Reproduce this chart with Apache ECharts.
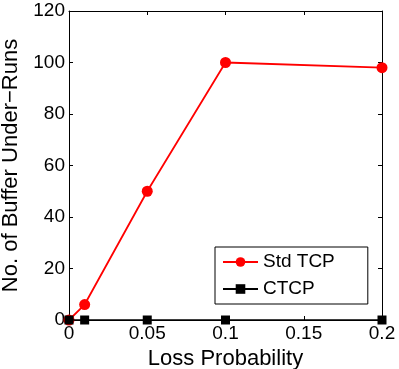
<!DOCTYPE html>
<html>
<head>
<meta charset="utf-8">
<script src="https://cdn.jsdelivr.net/npm/echarts@6/dist/echarts.min.js"></script>
<style>
  html, body { margin: 0; padding: 0; background: #fff; }
  #chart { width: 399px; height: 369px; }
</style>
</head>
<body>
<div id="chart"></div>
<script>
    // data
    var lossProb = [0, 0.01, 0.05, 0.1, 0.2];
    var stdTcp = [0, 6, 50, 100, 98];
    var ctcp = [0, 0, 0, 0, 0];
    var xTicks = [0, 0.05, 0.1, 0.15, 0.2];
    var yTicks = [0, 20, 40, 60, 80, 100, 120];

    function pairs(xs, ys) {
        return xs.map(function (x, i) { return [x, ys[i]]; });
    }

    var font = 'Liberation Sans, Arial, sans-serif';
    var chart = echarts.init(document.getElementById('chart'));
    var frameAxis = {
        axisLine: { show: true, onZero: false, lineStyle: { color: '#000', width: 1 } },
        axisTick: { show: true, inside: true, length: 4, lineStyle: { color: '#000' } },
        splitLine: { show: false }
    };

    var option = {
        animation: false,
        textStyle: { fontFamily: font },
        grid: { left: 69, right: 17, top: 11, bottom: 49, outerBoundsMode: 'none', containLabel: false },
        legend: {
            left: 215, top: 247,
            orient: 'vertical',
            borderColor: '#000', borderWidth: 1,
            padding: [4, 33, 4, 7],
            itemGap: 5,
            itemWidth: 35, itemHeight: 12,
            textStyle: { fontSize: 19, lineHeight: 22, color: '#000', fontFamily: font },
            data: ['Std TCP', 'CTCP']
        },
        xAxis: [
            Object.assign({
                type: 'value', min: xTicks[0], max: xTicks[xTicks.length - 1], interval: 0.05,
                name: 'Loss Probability', nameLocation: 'middle', nameGap: 23,
                nameTextStyle: { fontSize: 22, color: '#000', fontFamily: font },
                axisLabel: {
                    fontSize: 19, color: '#000', margin: 4, fontFamily: font,
                    formatter: function (v) { return String(+v.toFixed(2)); }
                }
            }, frameAxis),
            Object.assign({
                type: 'value', position: 'top', min: 0, max: 0.2, interval: 0.05,
                axisLabel: { show: false }
            }, frameAxis)
        ],
        yAxis: [
            Object.assign({
                type: 'value', min: yTicks[0], max: yTicks[yTicks.length - 1], interval: 20,
                name: 'No. of Buffer Under\u2212Runs', nameLocation: 'middle', nameGap: 42,
                nameTextStyle: { fontSize: 22, color: '#000', fontFamily: font },
                axisLabel: { fontSize: 19, color: '#000', margin: 4, fontFamily: font }
            }, frameAxis),
            Object.assign({
                type: 'value', position: 'right', min: 0, max: 120, interval: 20,
                axisLabel: { show: false }
            }, frameAxis)
        ],
        series: [
            {
                name: 'Std TCP', type: 'line',
                data: pairs(lossProb, stdTcp),
                symbol: 'circle', symbolSize: 11,
                lineStyle: { color: '#ff0000', width: 1.8 },
                itemStyle: { color: '#ff0000' },
                z: 2
            },
            {
                name: 'CTCP', type: 'line',
                data: pairs(lossProb, ctcp),
                symbol: 'rect', symbolSize: 9,
                lineStyle: { color: '#000', width: 1.5 },
                itemStyle: { color: '#000' },
                z: 3
            }
        ]
    };
    chart.setOption(option);
</script>
</body>
</html>
